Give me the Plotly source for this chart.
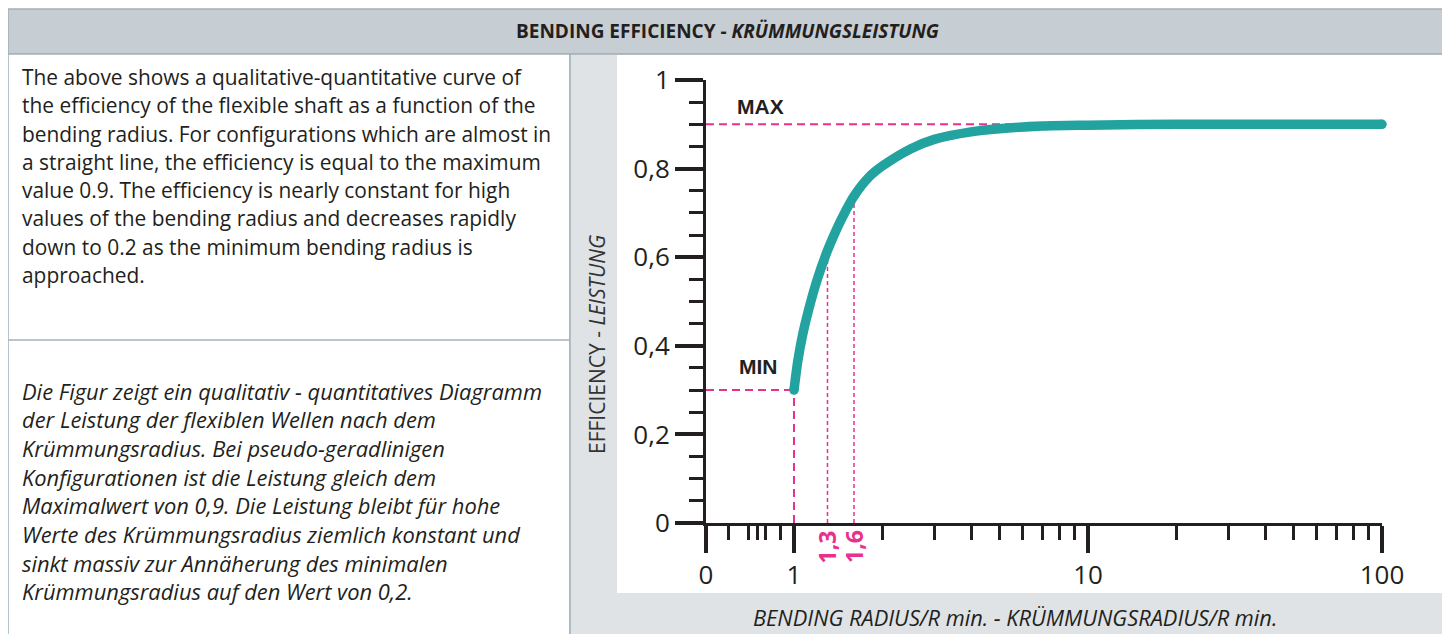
import numpy as np
import plotly.graph_objects as go

# ---------------- data ----------------
radius = [1.0, 1.03, 1.07, 1.12, 1.2, 1.3, 1.4, 1.5, 1.6, 1.8, 2.0, 2.5, 3.0, 4.0, 5.0, 7.0, 10.0, 20.0, 50.0, 100.0]
efficiency = [0.30, 0.365, 0.425, 0.48, 0.55, 0.615, 0.665, 0.705, 0.738, 0.781, 0.806, 0.845, 0.866, 0.883, 0.890, 0.896, 0.898, 0.90, 0.90, 0.90]

eff_max = 0.9
eff_min = 0.3
r_min = 1.0
r_marks = [1.3, 1.6]
r_marks_eff = [0.62, 0.735]
r_marks_text = ["1,3", "1,6"]
r_max_meet = 6.6

x_tick_vals = [0.502, 1, 10, 100]
x_tick_text = ["0", "1", "10", "100"]
x_minor_vals = [0.6, 0.7, 0.75, 0.8, 0.9] + [2, 3, 4, 5, 6, 7, 8, 9] + [20, 30, 40, 50, 60, 70, 80, 90]
y_tick_vals = [0, 0.2, 0.4, 0.6, 0.8, 1.0]
y_tick_text = ["0", "0,2", "0,4", "0,6", "0,8", "1"]

header_text = "<b>BENDING EFFICIENCY - <i>KRÜMMUNGSLEISTUNG</i></b>"
y_title = "EFFICIENCY - <i>LEISTUNG</i>"
x_title = "<i>BENDING RADIUS/R min. - KRÜMMUNGSRADIUS/R min.</i>"
en_lines = [
    "The above shows a qualitative-quantitative curve of",
    "the efficiency of the flexible shaft as a function of the",
    "bending radius. For configurations which are almost in",
    "a straight line, the efficiency is equal to the maximum",
    "value 0.9. The efficiency is nearly constant for high",
    "values of the bending radius and decreases rapidly",
    "down to 0.2 as the minimum bending radius is",
    "approached.",
]
de_lines = [
    "Die Figur zeigt ein qualitativ - quantitatives Diagramm",
    "der Leistung der flexiblen Wellen nach dem",
    "Krümmungsradius. Bei pseudo-geradlinigen",
    "Konfigurationen ist die Leistung gleich dem",
    "Maximalwert von 0,9. Die Leistung bleibt für hohe",
    "Werte des Krümmungsradius ziemlich konstant und",
    "sinkt massiv zur Annäherung des minimalen",
    "Krümmungsradius auf den Wert von 0,2.",
]

# ---------------- layout helpers ----------------
W, H = 1450, 634
OFF = 8  # page body margin offset
def px(v):
    return (v - OFF) / W
def py(v):
    return 1 - (v - OFF) / H

PINK = "#e8318f"
TEAL = "#22a39f"
INK = "#231f20"

fig = go.Figure()

x_left = x_tick_vals[0]
# dashed guide lines
fig.add_trace(go.Scatter(x=[x_left, r_max_meet], y=[eff_max, eff_max], mode="lines",
                         line=dict(color=PINK, width=2, dash="8px,5px"), hoverinfo="skip"))
fig.add_trace(go.Scatter(x=[x_left, r_min], y=[eff_min, eff_min], mode="lines",
                         line=dict(color=PINK, width=2, dash="8px,5px"), hoverinfo="skip"))
fig.add_trace(go.Scatter(x=[r_min, r_min], y=[0, eff_min], mode="lines",
                         line=dict(color=PINK, width=2, dash="8px,5px"), hoverinfo="skip"))
for r, e in zip(r_marks, r_marks_eff):
    fig.add_trace(go.Scatter(x=[r, r], y=[0, e], mode="lines",
                             line=dict(color=PINK, width=1.5, dash="4px,3px"), hoverinfo="skip"))

# main curve
fig.add_trace(go.Scatter(x=radius, y=efficiency, mode="lines",
                         line=dict(color=TEAL, width=9.5, shape="spline", smoothing=0.8)))
# rounded curve ends
fig.add_trace(go.Scatter(x=[radius[0], radius[-1]], y=[efficiency[0], efficiency[-1]], mode="markers",
                         marker=dict(color=TEAL, size=9.5, line=dict(width=0)), cliponaxis=False,
                         hoverinfo="skip"))

shapes = [
    # header
    dict(type="rect", xref="paper", yref="paper", x0=px(8), x1=px(1447), y0=py(54), y1=py(9),
         fillcolor="#c6cdd3", line=dict(color="#a3b0b8", width=1.5), layer="below"),
    # left panel
    dict(type="rect", xref="paper", yref="paper", x0=px(8), x1=px(570), y0=py(640), y1=py(54),
         fillcolor="white", line=dict(color="#a3b2bc", width=1.5), layer="below"),
    dict(type="line", xref="paper", yref="paper", x0=px(8), x1=px(570), y0=py(340), y1=py(340),
         line=dict(color="#a3b2bc", width=1.5), layer="below"),
    # right panel
    dict(type="rect", xref="paper", yref="paper", x0=px(570), x1=px(1447), y0=py(640), y1=py(54),
         fillcolor="#dfe3e6", line=dict(color="#a3b2bc", width=1.5), layer="below"),
    dict(type="rect", xref="paper", yref="paper", x0=px(617), x1=px(1442), y0=py(593), y1=py(55),
         fillcolor="white", line=dict(width=0), layer="below"),
]

def ann(text, x, y, size, family="Open Sans", color=INK, xanchor="center", angle=0, xref="paper"):
    return dict(text=text, x=x, y=y, xref=xref, yref="paper", showarrow=False,
                xanchor=xanchor, yanchor="middle", textangle=angle,
                font=dict(family=family, size=size, color=color))

annotations = [
    ann(header_text, px(727), py(31), 19),
    ann(y_title, px(597), py(345), 21, color="#333333", angle=-90),
    ann(x_title, px(1015), py(617), 21.8),
    ann("<b>MAX</b>", px(760), py(106), 21, family="Liberation Sans"),
    ann("<b>MIN</b>", px(759), py(366), 21, family="Liberation Sans"),
]
for r, t in zip(r_marks, r_marks_text):
    annotations.append(ann("<b>" + t + "</b>", np.log10(r), py(547), 23, color=PINK, angle=-90, xref="x"))
for i, line in enumerate(en_lines):
    annotations.append(ann(line, px(20), py(77 + i * 28.3), 20.9, xanchor="left"))
for i, line in enumerate(de_lines):
    annotations.append(ann("<i>" + line + "</i>", px(20), py(391 + i * 28.7), 21.9, xanchor="left"))

fig.update_layout(
    width=W, height=H, margin=dict(l=0, r=0, t=0, b=0, pad=0, autoexpand=False),
    paper_bgcolor="white", plot_bgcolor="rgba(0,0,0,0)",
    showlegend=False, shapes=shapes, annotations=annotations,
    xaxis=dict(type="log", domain=[px(706), px(1382)], automargin=False,
               range=[np.log10(x_left), 2],
               tickmode="array", tickvals=x_tick_vals, ticktext=x_tick_text,
               ticks="outside", ticklen=27, tickwidth=4, tickcolor=INK,
               showline=True, linewidth=2.5, linecolor=INK, showgrid=False, zeroline=False,
               tickfont=dict(family="Open Sans", size=26, color=INK),
               minor=dict(tickmode="array", tickvals=x_minor_vals, ticks="outside",
                          ticklen=14, tickwidth=3, tickcolor=INK, showgrid=False)),
    yaxis=dict(domain=[py(523), py(80)], range=[0, 1], automargin=False,
               tickmode="array", tickvals=y_tick_vals, ticktext=y_tick_text,
               ticks="outside", ticklen=28, tickwidth=4, tickcolor=INK,
               showline=True, linewidth=3, linecolor=INK, showgrid=False, zeroline=False,
               tickfont=dict(family="Open Sans", size=26, color=INK),
               minor=dict(tickmode="linear", tick0=0, dtick=0.05, ticks="outside",
                          ticklen=14, tickwidth=3, tickcolor=INK, showgrid=False)),
)

fig.write_html("out.html")
